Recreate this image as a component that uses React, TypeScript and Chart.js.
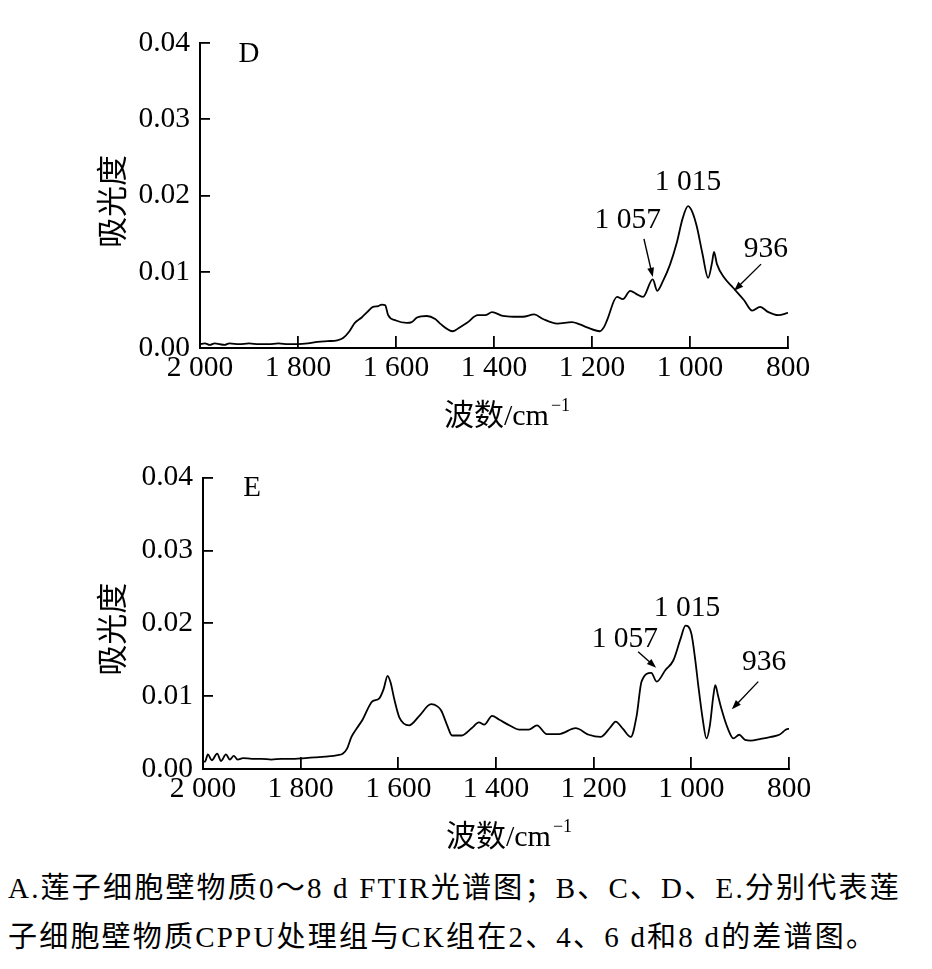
import { useEffect, useRef } from "react";
import { Chart, registerables, type Plugin } from "chart.js";

Chart.register(...registerables);

const SERIF = '"Liberation Serif", "Noto Sans CJK SC", serif';

const xTicks = [2000, 1800, 1600, 1400, 1200, 1000, 800];
const xTickLabels = ["2 000", "1 800", "1 600", "1 400", "1 200", "1 000", "800"];
const yTicks = [0, 0.01, 0.02, 0.03, 0.04];
const yTickLabels = ["0.00", "0.01", "0.02", "0.03", "0.04"];

// panel D: difference spectrum, 6 d
const dWavenumber = [
  2000, 1990, 1980, 1970, 1960, 1950, 1940, 1920, 1900, 1880, 1860, 1840, 1820, 1800,
  1780, 1760, 1740, 1720, 1708, 1695, 1684, 1670, 1659, 1647, 1636, 1629, 1622, 1616,
  1600, 1578, 1568, 1557, 1537, 1520, 1510, 1484, 1470, 1455, 1433, 1418, 1404, 1382,
  1360, 1341, 1318, 1300, 1271, 1241, 1225, 1210, 1184, 1175, 1169, 1149, 1137, 1122,
  1110, 1096, 1076, 1067, 1055, 1041, 1027, 1015, 1004, 995, 986, 975, 963, 955, 951,
  945, 930, 912, 890, 873, 857, 840, 820, 800,
];
const dAbsorbance = [
  0.0005, 0.0006, 0.0004, 0.0006, 0.0005, 0.0004, 0.0006, 0.0005, 0.0006, 0.0005, 0.0005,
  0.0006, 0.0005, 0.0005, 0.0006, 0.0008, 0.0009, 0.001, 0.0013, 0.0022, 0.0033, 0.004,
  0.0047, 0.0054, 0.0055, 0.0057, 0.0056, 0.0043, 0.0036, 0.0033, 0.0034, 0.004, 0.0042,
  0.0038, 0.0032, 0.0022, 0.0027, 0.0033, 0.0043, 0.0043, 0.0047, 0.0042, 0.0041, 0.0041,
  0.0044, 0.0038, 0.0032, 0.0034, 0.0031, 0.0027, 0.0022, 0.0028, 0.0037, 0.0067, 0.0064,
  0.0075, 0.0071, 0.0067, 0.009, 0.0075, 0.0088, 0.0109, 0.0138, 0.017, 0.0186, 0.0178,
  0.0159, 0.0125, 0.0092, 0.0112, 0.0126, 0.011, 0.0092, 0.0079, 0.0063, 0.0049, 0.0054,
  0.0047, 0.0043, 0.0046,
];

// panel E: difference spectrum, 8 d
const eWavenumber = [
  2000, 1996, 1990, 1982, 1971, 1963, 1953, 1945, 1937, 1929, 1918, 1900, 1880, 1860,
  1840, 1812, 1790, 1771, 1750, 1724, 1714, 1705, 1696, 1685, 1673, 1660, 1653, 1639,
  1630, 1622, 1616, 1608, 1598, 1578, 1557, 1533, 1520, 1512, 1500, 1490, 1471, 1450,
  1435, 1424, 1408, 1394, 1370, 1353, 1333, 1316, 1296, 1271, 1237, 1210, 1186, 1165,
  1155, 1140, 1124, 1112, 1102, 1082, 1071, 1053, 1037, 1022, 1012, 1000, 992, 986, 977,
  969, 962, 955, 951, 945, 939, 925, 914, 902, 890, 878, 860, 837, 820, 802, 800,
];
const eAbsorbance = [
  0.001, 0.001, 0.002, 0.0012, 0.0021, 0.0011, 0.002, 0.0013, 0.0018, 0.0013, 0.0015,
  0.0014, 0.0014, 0.0013, 0.0014, 0.0014, 0.0015, 0.0016, 0.0017, 0.0019, 0.0021, 0.0028,
  0.0044, 0.0056, 0.0068, 0.0086, 0.0093, 0.0097, 0.011, 0.0128, 0.0119, 0.0095, 0.0071,
  0.006, 0.0073, 0.0089, 0.0086, 0.008, 0.006, 0.0046, 0.0046, 0.0056, 0.0064, 0.0061,
  0.0073, 0.0068, 0.0059, 0.0054, 0.0054, 0.006, 0.0048, 0.0048, 0.0056, 0.0047, 0.0044,
  0.0058, 0.0065, 0.0055, 0.0044, 0.0073, 0.012, 0.0132, 0.012, 0.0136, 0.0149, 0.0179,
  0.0197, 0.0186, 0.015, 0.0116, 0.007, 0.0042, 0.006, 0.01, 0.0115, 0.01, 0.0084, 0.0055,
  0.0042, 0.0047, 0.004, 0.0039, 0.0041, 0.0044, 0.0047, 0.0055, 0.0055,
];

const peakLabels = ["1 015", "1 057", "936"];
// label anchors [wavenumber, absorbance]
const dLabelAt = [[1004, 0.0217], [1127, 0.0168], [845, 0.0129]];
const eLabelAt = [[1009, 0.0221], [1136, 0.0178], [851, 0.0146]];
// arrows [from wn, from abs, to wn, to abs]
const dArrows = [[1094, 0.0143, 1076, 0.0093], [855, 0.011, 910, 0.0075]];
const eArrows = [[1109, 0.0161, 1072, 0.0139], [863, 0.012, 917, 0.0082]];

type Area = { left: number; top: number; right: number; bottom: number };

function Spectrum(props: {
  letter: string;
  wavenumber: number[];
  absorbance: number[];
  labelAt: number[][];
  arrows: number[][];
  top: number;
  height: number;
  area: Area;
}) {
  const canvasRef = useRef<HTMLCanvasElement>(null);
  const width = 932;

  useEffect(() => {
    const canvas = canvasRef.current;
    if (!canvas) return;
    const { area, height, letter, labelAt, arrows } = props;

    const overlay: Plugin<"line"> = {
      id: "overlay",
      afterDraw(chart) {
        const { ctx, chartArea: a } = chart;
        const x = chart.scales.x;
        const y = chart.scales.y;
        ctx.save();
        ctx.fillStyle = "#000";
        ctx.strokeStyle = "#000";
        ctx.textAlign = "center";
        ctx.textBaseline = "middle";
        ctx.font = `29px ${SERIF}`;
        ctx.fillText(letter, a.left + 49, a.top + 11);

        ctx.font = `29.5px ${SERIF}`;
        labelAt.forEach(([w, v], i) => {
          ctx.fillText(peakLabels[i], x.getPixelForValue(w), y.getPixelForValue(v));
        });

        ctx.lineWidth = 1.4;
        arrows.forEach(([w1, v1, w2, v2]) => {
          const x1 = x.getPixelForValue(w1);
          const y1 = y.getPixelForValue(v1);
          const x2 = x.getPixelForValue(w2);
          const y2 = y.getPixelForValue(v2);
          const ang = Math.atan2(y2 - y1, x2 - x1);
          const len = 10;
          ctx.beginPath();
          ctx.moveTo(x1, y1);
          ctx.lineTo(x2 - Math.cos(ang) * 6, y2 - Math.sin(ang) * 6);
          ctx.stroke();
          ctx.beginPath();
          ctx.moveTo(x2, y2);
          ctx.lineTo(x2 - len * Math.cos(ang - 0.35), y2 - len * Math.sin(ang - 0.35));
          ctx.lineTo(x2 - len * Math.cos(ang + 0.35), y2 - len * Math.sin(ang + 0.35));
          ctx.closePath();
          ctx.fill();
        });

        // x title with superscript
        const main = "波数/cm";
        const sup = "−1";
        ctx.font = `30px ${SERIF}`;
        const w1 = ctx.measureText(main).width;
        ctx.font = `18px ${SERIF}`;
        const w2 = ctx.measureText(sup).width;
        const cx = (a.left + a.right) / 2 + 13;
        const sx = cx - (w1 + w2 + 2) / 2;
        const base = a.bottom + 77;
        ctx.textAlign = "left";
        ctx.textBaseline = "alphabetic";
        ctx.font = `30px ${SERIF}`;
        ctx.fillText(main, sx, base);
        ctx.font = `18px ${SERIF}`;
        ctx.fillText(sup, sx + w1 + 2, base - 14);

        // y title
        ctx.save();
        ctx.translate(115, (a.top + a.bottom) / 2 + 6);
        ctx.rotate(-Math.PI / 2);
        ctx.textAlign = "center";
        ctx.textBaseline = "middle";
        ctx.font = `31px ${SERIF}`;
        ctx.fillText("吸光度", 0, 0);
        ctx.restore();
        ctx.restore();
      },
    };

    const tickFont = { family: SERIF, size: 29.5 };

    const chart = new Chart(canvas, {
      type: "line",
      data: {
        datasets: [
          {
            data: props.wavenumber.map((w, i) => ({ x: w, y: props.absorbance[i] })),
            borderColor: "#000",
            borderWidth: 1.8,
            pointRadius: 0,
            cubicInterpolationMode: "monotone",
          },
        ],
      },
      options: {
        animation: false,
        responsive: false,
        layout: { padding: { left: 0, top: area.top, right: width - area.right, bottom: 0 } },
        plugins: { legend: { display: false }, tooltip: { enabled: false } },
        scales: {
          x: {
            type: "linear",
            reverse: true,
            min: 800,
            max: 2000,
            afterBuildTicks: (s) => {
              s.ticks = xTicks.map((v) => ({ value: v }));
            },
            afterFit: (s) => {
              s.height = height - area.bottom;
            },
            ticks: {
              callback: (v) => xTickLabels[xTicks.indexOf(Number(v))],
              font: tickFont,
              color: "#000",
              padding: 15,
              maxRotation: 0,
              autoSkip: false,
            },
            grid: { drawOnChartArea: false, tickLength: -12, color: "#000", lineWidth: 1.8 },
            border: { color: "#000", width: 2 },
          },
          y: {
            min: 0,
            max: 0.04,
            afterBuildTicks: (s) => {
              s.ticks = yTicks.map((v) => ({ value: v }));
            },
            afterFit: (s) => {
              s.width = area.left;
            },
            ticks: {
              callback: (v) => yTickLabels[yTicks.indexOf(Number(v))],
              font: tickFont,
              color: "#000",
              padding: 20,
            },
            grid: { drawOnChartArea: false, tickLength: -10, color: "#000", lineWidth: 1.8 },
            border: { color: "#000", width: 2 },
          },
        },
      },
      plugins: [overlay],
    });

    return () => chart.destroy();
  }, []);

  return (
    <canvas
      ref={canvasRef}
      width={width}
      height={props.height}
      style={{ position: "absolute", left: 0, top: props.top, width, height: props.height }}
    />
  );
}

export default function App() {
  return (
    <div style={{ position: "absolute", left: 0, top: 0, width: 932, height: 969, background: "#fff" }}>
      <Spectrum
        letter="D"
        wavenumber={dWavenumber}
        absorbance={dAbsorbance}
        labelAt={dLabelAt}
        arrows={dArrows}
        top={0}
        height={440}
        area={{ left: 200, top: 43, right: 788, bottom: 348 }}
      />
      <Spectrum
        letter="E"
        wavenumber={eWavenumber}
        absorbance={eAbsorbance}
        labelAt={eLabelAt}
        arrows={eArrows}
        top={440}
        height={420}
        area={{ left: 203, top: 23, right: 789, bottom: 329 }}
      />
      <div
        style={{
          position: "absolute",
          left: 8,
          top: 864,
          fontFamily: SERIF,
          fontSize: 29,
          letterSpacing: "2.2px",
          lineHeight: "49px",
          color: "#000",
          whiteSpace: "nowrap",
        }}
      >
        <div>A.莲子细胞壁物质0～8 d FTIR光谱图；B、C、D、E.分别代表莲</div>
        <div>子细胞壁物质CPPU处理组与CK组在2、4、6 d和8 d的差谱图。</div>
      </div>
    </div>
  );
}
